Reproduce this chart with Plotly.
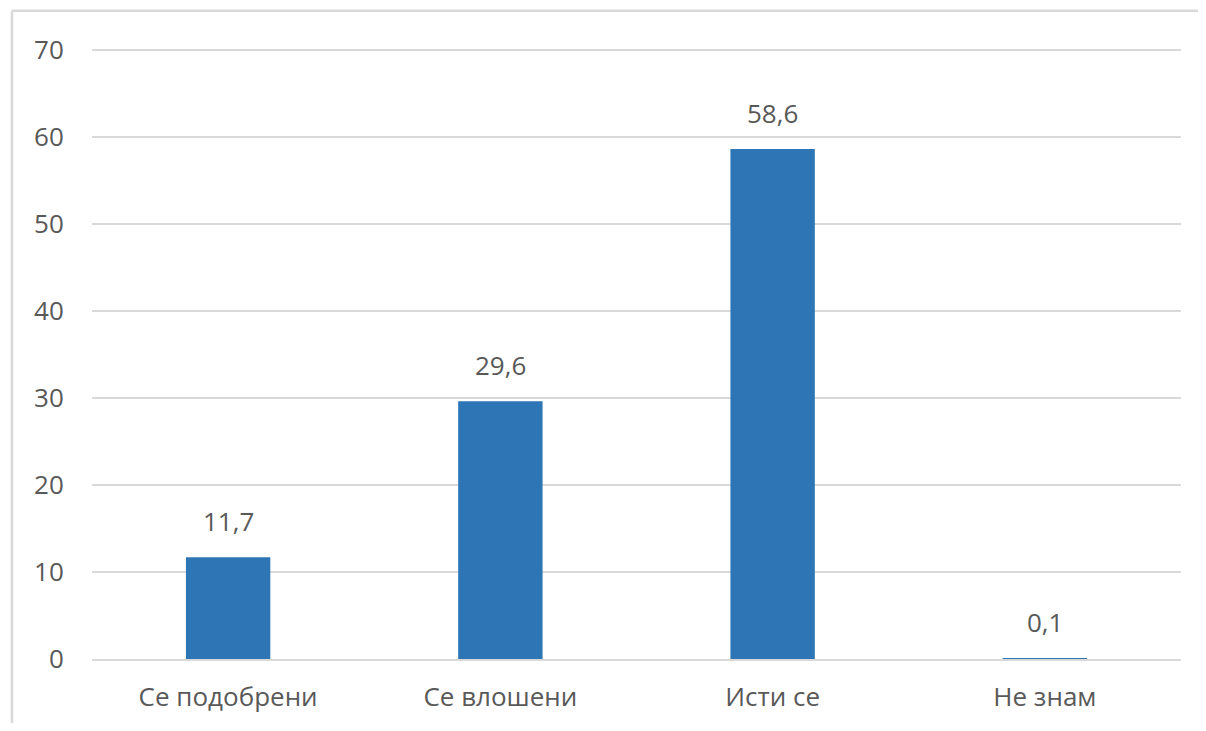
import plotly.graph_objects as go

categories = ['Се подобрени', 'Се влошени', 'Исти се', 'Не знам']
values = [11.7, 29.6, 58.6, 0.1]
y_ticks = [0, 10, 20, 30, 40, 50, 60, 70]

bar_color = '#2E75B6'
text_color = '#595959'
grid_color = '#D9D9D9'
font_family = 'Open Sans, Noto Sans, sans-serif'

fig = go.Figure()
fig.add_trace(go.Bar(x=categories, y=values, marker=dict(color=bar_color, line=dict(width=0)),
                     width=0.31, hoverinfo='x+y'))

# data labels above the bars
for cat, val in zip(categories, values):
    fig.add_annotation(x=cat, y=val, text=f'{val:.1f}'.replace('.', ','), showarrow=False,
                       yanchor='bottom', yshift=16,
                       font=dict(family=font_family, size=26, color=text_color))

# light frame around the chart area (only top and left edges are in view)
frame = dict(type='line', xref='paper', yref='paper', line=dict(color=grid_color, width=2.5), layer='below')
fig.add_shape(x0=-0.0735, x1=1.2, y0=1.061, y1=1.061, **frame)
fig.add_shape(x0=-0.0735, x1=-0.0735, y0=-0.3, y1=1.061, **frame)

# page body adds 8px on each side; keep the figure inside the window so no scrollbars appear
fig.update_layout(
    width=1190, height=715,
    margin=dict(l=84, r=17, t=40, b=64, autoexpand=False),
    plot_bgcolor='white', paper_bgcolor='white',
    separators=', ',
    showlegend=False,
    xaxis=dict(showgrid=False, zeroline=False,
               showline=True, linecolor=grid_color, linewidth=2,
               ticks='outside', ticklen=14, tickcolor='rgba(0,0,0,0)',
               tickfont=dict(family=font_family, size=26, color=text_color)),
    yaxis=dict(range=[0, 70.2], tickvals=y_ticks, showgrid=True, gridcolor=grid_color, gridwidth=2,
               zeroline=False, showline=False,
               ticks='outside', ticklen=22, tickcolor='rgba(0,0,0,0)',
               tickfont=dict(family=font_family, size=26, color=text_color)),
)

fig.write_html('out.html')
